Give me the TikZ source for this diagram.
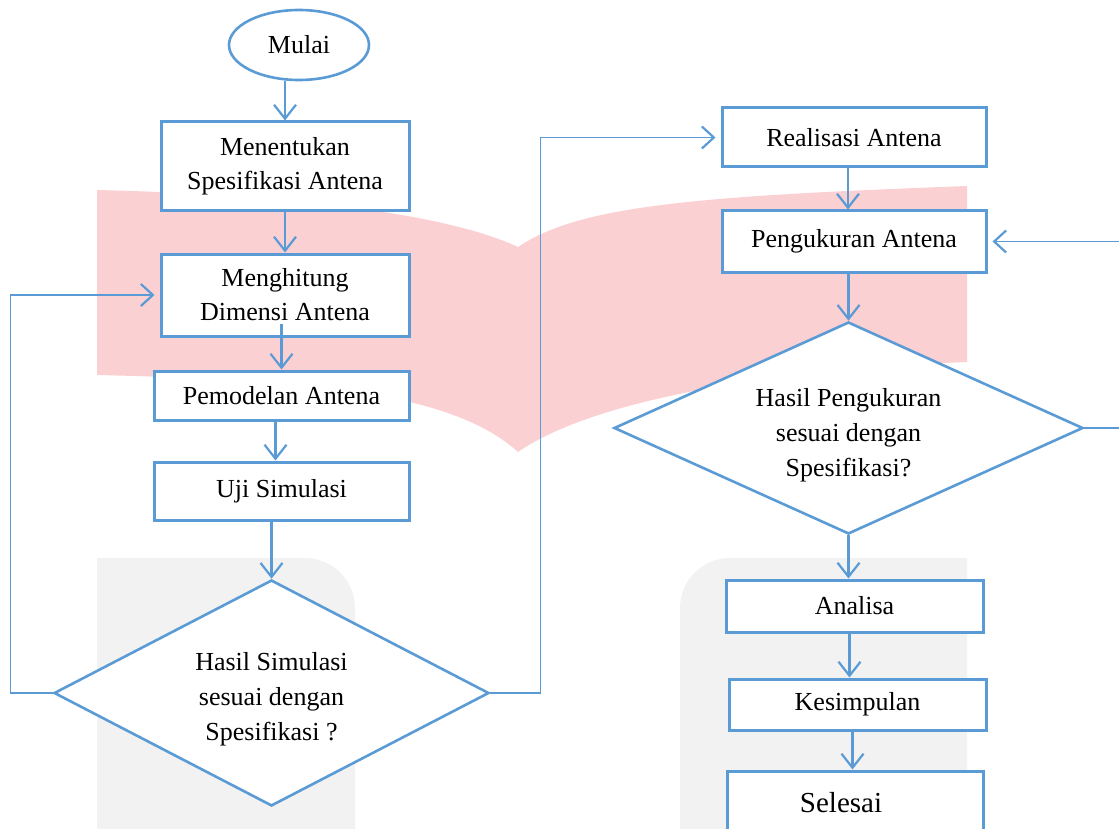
\documentclass[tikz,border=0pt]{standalone}
\usepackage{fontspec}
\setmainfont{Liberation Serif}
\usetikzlibrary{shapes.geometric,arrows.meta,positioning}
\definecolor{garis}{RGB}{91,155,213}
\definecolor{merah}{RGB}{251,208,210}
\definecolor{abu}{RGB}{242,242,242}
\begin{document}
\begin{tikzpicture}[x=1pt, y=-1pt,
    proses/.style = {draw=garis, line width=3pt, fill=white, rectangle, align=center, inner sep=0pt, font=\fontsize{26}{34}\selectfont},
    keputusan/.style = {draw=garis, line width=2.6pt, fill=white, diamond, align=center, inner sep=0pt, font=\fontsize{26}{35}\selectfont},
    panah/.style = {draw=garis, line width=2.2pt, -{Straight Barb[length=14pt,width=22pt,line width=2.2pt]}},
    balik/.style = {draw=garis, line width=1.5pt, -{Straight Barb[length=12pt,width=22pt,line width=2.2pt]}, shorten >=5pt}]
    \useasboundingbox (0,0) rectangle (1119,829);
    % watermark
    \fill[merah] (97,190) .. controls (300,195) and (450,215) .. (518,247) .. controls (580,205) and (700,196) .. (967,186) -- (967,362) .. controls (800,368) and (600,395) .. (518,452) .. controls (450,390) and (300,380) .. (97,375) -- cycle;
    \fill[abu] (97,829) |- (305,558) arc[start angle=90, end angle=0, radius=50pt] -- (355,829) -- cycle;
    \fill[abu] (967,829) |- (730,558) arc[start angle=90, end angle=180, radius=50pt] -- (680,829) -- cycle;
    % kolom kiri
    \node[draw=garis, line width=2.6pt, fill=white, ellipse, minimum width=140pt, minimum height=70pt, inner sep=0pt, font=\fontsize{26}{34}\selectfont] (mulai) at (299,45) {Mulai};
    \node[proses, minimum width=248pt, minimum height=89pt] (spek) at (285,166.5) {Menentukan\\Spesifikasi Antena};
    \node[proses, minimum width=248pt, minimum height=82pt] (hitung) at (285,295) {Menghitung\\Dimensi Antena};
    \node[proses, minimum width=255pt, minimum height=49pt] (model) at (281.5,395.5) {Pemodelan Antena};
    \node[proses, minimum width=255pt, minimum height=58pt] (uji) at (281.5,491) {Uji Simulasi};
    \node[keputusan, aspect=1.92, minimum width=435pt, minimum height=226pt] (cek1) at (271.5,693) {\rule{0pt}{30pt}Hasil Simulasi\\sesuai dengan\\Spesifikasi ?};
    % kolom kanan
    \node[proses, minimum width=264pt, minimum height=59pt] (real) at (854,137.5) {Realisasi Antena};
    \node[proses, minimum width=264pt, minimum height=61pt] (ukur) at (854,241.5) {Pengukuran Antena};
    \node[keputusan, aspect=2.2, minimum width=469pt, minimum height=212pt] (cek2) at (848.5,428) {\rule{0pt}{32pt}Hasil Pengukuran\\sesuai dengan\\Spesifikasi?};
    \node[proses, minimum width=257pt, minimum height=52pt] (analisa) at (854.5,606) {Analisa};
    \node[proses, minimum width=257pt, minimum height=51pt] (simpul) at (857.5,704.5) {Kesimpulan};
    \node[proses, minimum width=256pt, minimum height=64pt, font=\fontsize{29}{34}\selectfont] (selesai) at (855,803) {Selesai\hspace*{28pt}};
    % alur
    \draw[panah] (mulai.south -| spek.north) -- (spek.north);
    \draw[panah] (spek.south) -- (hitung.north);
    \draw[panah] ([yshift=14pt]model.north |- hitung.south) -- (model.north);
    \draw[panah] ([xshift=-6pt]model.south) -- ([xshift=-6pt]uji.north);
    \draw[panah] (cek1.north |- uji.south) -- (cek1.north);
    \draw[balik] (cek1.west) -- ++(-42,0) |- (hitung.west);
    \draw[balik] (cek1.east) -- ++(50,0) |- (real.west);
    \draw[panah] ([xshift=-6pt]real.south) -- ([xshift=-6pt]ukur.north);
    \draw[panah] (cek2.north |- ukur.south) -- (cek2.north);
    \draw[panah] (cek2.south) -- (cek2.south |- analisa.north);
    \draw[panah] ([xshift=-5pt]analisa.south) -- ([xshift=-5pt]analisa.south |- simpul.north);
    \draw[panah] ([xshift=-5pt]simpul.south) -- ([xshift=-5pt]simpul.south |- selesai.north);
    \draw[balik] (cek2.east) -- ++(50,0) |- (ukur.east);
\end{tikzpicture}
\end{document}
